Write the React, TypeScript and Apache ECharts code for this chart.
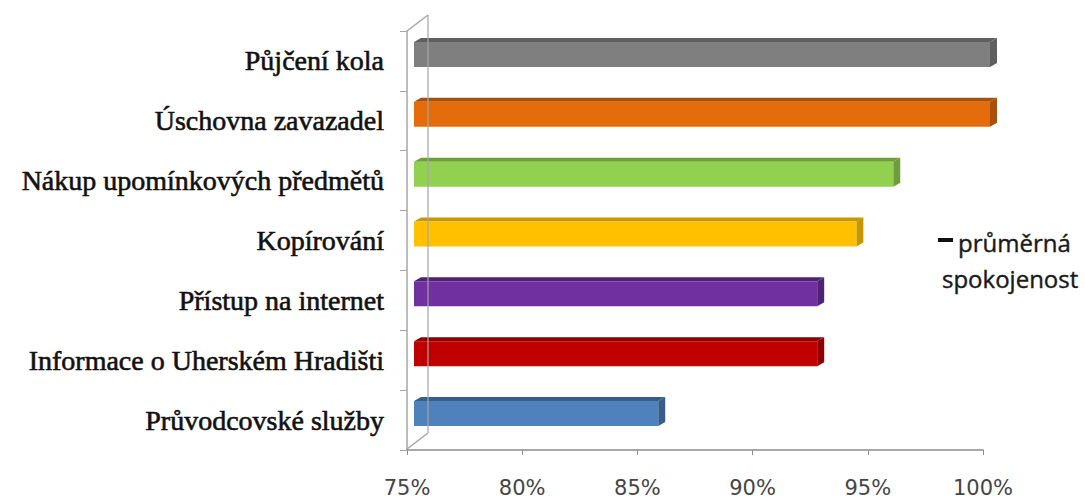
import React, { useEffect, useRef } from "react";
import * as echarts from "echarts";

const categories = [
  "Průvodcovské služby",
  "Informace o Uherském Hradišti",
  "Přístup na internet",
  "Kopírování",
  "Nákup upomínkových předmětů",
  "Úschovna zavazadel",
  "Půjčení kola",
];
const values = [85.6, 92.5, 92.5, 94.2, 95.8, 100, 100];
const frontColors = ["#4f81bd", "#c00000", "#7030a0", "#ffc000", "#92d050", "#e46c0a", "#7f7f7f"];
const sideColors = ["#385d8a", "#8c0000", "#4f2272", "#c89600", "#6e9e3a", "#a84f08", "#5f5f5f"];
const xTicks = [75, 80, 85, 90, 95, 100];
const legendLines = ["průměrná", "spokojenost"];

export default function App() {
  const ref = useRef<HTMLDivElement>(null);
  useEffect(() => {
    if (!ref.current) return;
    const chart = echarts.init(ref.current, null, { renderer: "svg" });
    const depthX = 7;
    const depthY = 4;
    const barH = 25;
    const wall = "#a6a6a6";
    chart.setOption({
      animation: false,
      backgroundColor: "#ffffff",
      grid: { left: 407, right: 102, top: 31, bottom: 50 },
      xAxis: {
        type: "value",
        min: xTicks[0],
        max: xTicks[xTicks.length - 1],
        interval: 5,
        axisLine: { show: true, lineStyle: { color: "#8c8c8c", width: 1.5 } },
        axisTick: { show: true, length: 5, lineStyle: { color: "#8c8c8c" } },
        splitLine: { show: false },
        axisLabel: {
          formatter: (v: number) => v + "%",
          fontFamily: "DejaVu Sans",
          fontSize: 21,
          color: "#454545",
          margin: 27,
        },
      },
      yAxis: {
        type: "category",
        data: categories,
        axisLine: { show: true, lineStyle: { color: wall, width: 1.5 } },
        axisTick: { show: true, length: 7, lineStyle: { color: wall } },
        axisLabel: {
          fontFamily: "Liberation Serif",
          fontSize: 28,
          color: "#111",
          textBorderColor: "#111",
          textBorderWidth: 0.6,
          margin: 23,
        },
      },
      graphic: [
        { type: "line", shape: { x1: 407, y1: 31, x2: 428, y2: 15 }, style: { stroke: wall, lineWidth: 1.5 } },
        { type: "line", z: 100, shape: { x1: 428, y1: 15, x2: 428, y2: 433 }, style: { stroke: wall, lineWidth: 1.5, opacity: 0.8 } },
        { type: "line", shape: { x1: 407, y1: 449, x2: 428, y2: 433 }, style: { stroke: wall, lineWidth: 1.5 } },
        { type: "rect", shape: { x: 938, y: 238, width: 15, height: 4 }, style: { fill: "#111" } },
        {
          type: "text",
          x: 958,
          y: 242,
          style: { text: legendLines[0], fontFamily: "Open Sans", fontSize: 24, fill: "#1a1a1a", verticalAlign: "middle", stroke: "#1a1a1a", lineWidth: 0.4 },
        },
        {
          type: "text",
          x: 942,
          y: 278,
          style: { text: legendLines[1], fontFamily: "Open Sans", fontSize: 24, fill: "#1a1a1a", verticalAlign: "middle", stroke: "#1a1a1a", lineWidth: 0.4 },
        },
      ],
      series: [
        {
          type: "custom",
          data: values.map((v, i) => [v, i]),
          renderItem: (params: any, api: any) => {
            const v = api.value(0);
            const i = api.value(1);
            const start = api.coord([xTicks[0], i]);
            const end = api.coord([v, i]);
            const xL = start[0] + 7;
            const xR = end[0] + 7;
            const cy = start[1] - 6.5;
            const yT = cy - barH / 2;
            const yB = cy + barH / 2;
            const idx = params.dataIndex;
            return {
              type: "group",
              children: [
                {
                  type: "polygon",
                  shape: { points: [[xL, yT], [xL + depthX, yT - depthY], [xR + depthX, yT - depthY], [xR, yT]] },
                  style: { fill: sideColors[idx] },
                },
                {
                  type: "polygon",
                  shape: { points: [[xR, yT], [xR + depthX, yT - depthY], [xR + depthX, yB - depthY], [xR, yB]] },
                  style: { fill: sideColors[idx] },
                },
                {
                  type: "rect",
                  shape: { x: xL, y: yT, width: xR - xL, height: barH },
                  style: { fill: frontColors[idx] },
                },
              ],
            };
          },
        },
      ],
    });
    return () => chart.dispose();
  }, []);
  return <div ref={ref} style={{ width: 1085, height: 500, position: "absolute", left: 0, top: 0 }} />;
}
